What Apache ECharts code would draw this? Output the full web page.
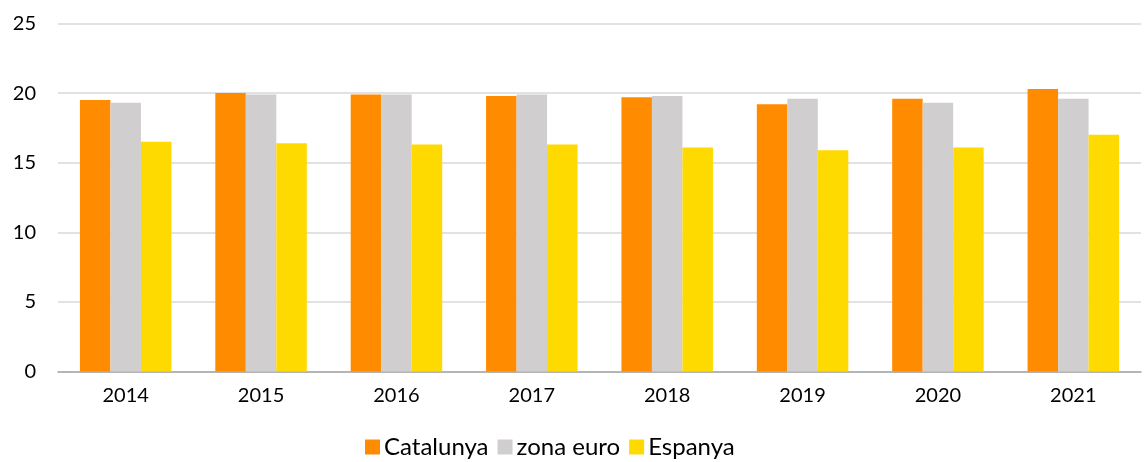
<!DOCTYPE html>
<html><head><meta charset="utf-8">
<script src="https://cdn.jsdelivr.net/npm/echarts@6/dist/echarts.min.js"></script>
<style>html,body{margin:0;padding:0;background:#fff}#c{width:1144px;height:462px}</style>
</head><body><div id="c"></div>
<script>
const categories = ['2014','2015','2016','2017','2018','2019','2020','2021'];
const catalunya = [19.5, 20.0, 19.9, 19.8, 19.7, 19.2, 19.6, 20.3];
const zonaEuro = [19.3, 19.9, 19.9, 19.9, 19.8, 19.6, 19.3, 19.6];
const espanya = [16.5, 16.4, 16.3, 16.3, 16.1, 15.9, 16.1, 17.0];
const seriesNames = ['Catalunya', 'zona euro', 'Espanya'];
const yTicks = [0, 5, 10, 15, 20, 25];

const font = 'Lato, "Open Sans", sans-serif';
const chart = echarts.init(document.getElementById('c'));
chart.setOption({
  animation: false,
  textStyle: {fontFamily: font},
  grid: {left: 58, right: 3, top: 23.5, bottom: 90.5},
  legend: {
    bottom: -2, left: 360, itemWidth: 15, itemHeight: 15, itemGap: 9,
    icon: 'rect',
    textStyle: {fontSize: 24, color: '#000', fontFamily: font, padding: [0, 0, 0, -1]},
    data: seriesNames
  },
  xAxis: {
    type: 'category', data: categories,
    axisLine: {lineStyle: {color: '#a6a6a6', width: 1.5}},
    axisTick: {show: false},
    axisLabel: {fontSize: 20, color: '#000', margin: 14, fontFamily: font}
  },
  yAxis: {
    type: 'value', min: yTicks[0], max: yTicks[yTicks.length - 1], interval: 5,
    axisLine: {show: false}, axisTick: {show: false},
    splitLine: {lineStyle: {color: '#d9d9d9', width: 1.5}},
    axisLabel: {fontSize: 20, color: '#000', margin: 22, fontFamily: font}
  },
  series: [
    {name: seriesNames[0], type: 'bar', data: catalunya, barWidth: 30.5, barGap: '0%', itemStyle: {color: '#FF8C00'}},
    {name: seriesNames[1], type: 'bar', data: zonaEuro, barWidth: 30.5, barGap: '0%', itemStyle: {color: '#D0CECE'}},
    {name: seriesNames[2], type: 'bar', data: espanya, barWidth: 30.5, barGap: '0%', itemStyle: {color: '#FFDA00'}}
  ]
});
</script></body></html>
